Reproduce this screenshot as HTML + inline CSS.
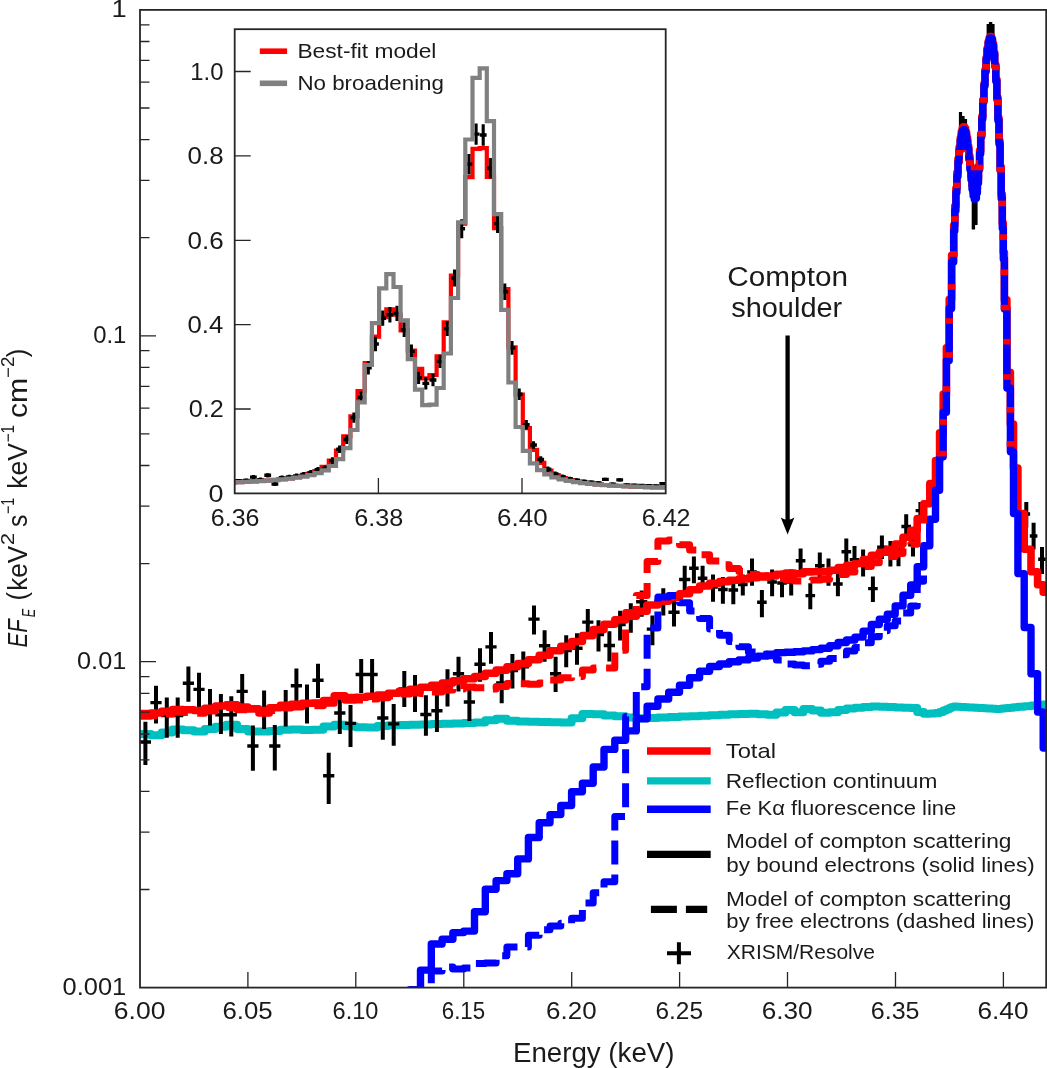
<!DOCTYPE html>
<html><head><meta charset="utf-8"><title>Fe K&#945; spectrum</title>
<style>html,body{margin:0;padding:0;background:#fff}svg{display:block;will-change:transform}</style></head>
<body>
<svg width="1047" height="1068" viewBox="0 0 1047 1068" font-family="'Liberation Sans', sans-serif" fill="#1a1a1a">
<rect width="1047" height="1068" fill="#fff"/>
<defs><clipPath id="cm"><rect x="140.0" y="9.9" width="908.2" height="977.7"/></clipPath><clipPath id="ci"><rect x="234.7" y="29.2" width="431.00000000000006" height="464.2"/></clipPath></defs>
<defs><clipPath id="cl"><rect x="140.0" y="9.9" width="787.0" height="977.7"/></clipPath><clipPath id="cr"><rect x="927.0" y="9.9" width="121.20000000000005" height="977.7"/></clipPath><mask id="mb" maskUnits="userSpaceOnUse" x="0" y="0" width="1047" height="1068"><path d="M140.0,1100.0H150.8V1100.0H161.6V1100.0H172.4V1100.0H183.2V1100.0H193.9V1100.0H204.7V1100.0H215.5V1100.0H226.3V1100.0H237.1V1100.0H247.9V1100.0H258.7V1100.0H269.5V1100.0H280.3V1100.0H291.1V1100.0H301.9V1100.0H312.6V1100.0H323.4V1100.0H334.2V1100.0H345.0V1100.0H355.8V1100.0H366.6V1100.0H377.4V1100.0H388.2V1084.4H399.0V1046.2H409.8V989.7H420.5V970.1H431.3V944.0H442.1V939.3H452.9V932.6H463.7V931.1H474.5V911.8H485.3V889.2H496.1V880.6H506.9V873.8H517.7V858.9H528.4V837.5H539.2V822.8H550.0V814.6H560.8V805.5H571.6V791.8H582.4V783.3H593.2V767.0H604.0V749.4H614.8V740.3H625.6V730.9H636.3V718.7H647.1V706.2H657.9V699.0H668.7V692.2H679.5V685.2H689.6V677.8H699.6V671.3H709.6V666.5H719.5V664.0H729.2V661.8H738.9V659.9H748.4V658.0H757.8V656.1H767.1V654.2H776.4V652.6H785.5V652.2H794.5V651.7H803.4V650.9H812.2V649.6H820.9V648.3H829.6V645.8H838.1V642.5H846.5V640.0H854.9V637.1H863.1V631.1H871.3V624.5H879.3V619.2H887.3V614.2H895.2V605.9H903.0V595.3H910.7V585.0H917.2V566.7H923.7V545.8H929.8V519.2H935.5V490.3H939.6V456.8H943.2V412.2H946.4V360.6H949.2V308.5H951.6V262.0H953.7V230.7H954.8V210.8H955.9V192.5H956.9V176.2H958.0V162.1H959.1V150.4H960.2V141.2H961.3V134.6H962.3V130.8H963.4V129.6H964.5V131.1H965.6V135.1H966.6V141.3H967.7V149.5H968.8V159.1H969.9V169.5H971.0V179.8H972.0V188.9H973.1V195.7H974.2V199.1H975.3V198.2H976.4V192.7H977.4V182.9H978.5V169.6H979.6V153.8H980.7V136.6H981.8V119.0H982.8V101.9H983.9V85.9H985.0V71.6H986.1V59.5H987.1V49.9H988.2V42.9H989.3V38.9H990.4V37.9H991.5V40.1H992.5V45.6H993.6V54.2H994.7V66.1H995.8V81.2H996.9V99.3H997.9V120.4H999.0V144.1H1000.1V170.3H1001.2V198.5H1002.3V228.2H1003.3V259.0H1004.4V309.0H1006.9V388.0H1010.4V451.8H1013.5V513.6H1017.9V573.6H1024.2V627.5H1031.0V673.8H1037.6V712.0H1043.2V748.0H1050.0" stroke="#fff" stroke-width="7.4" fill="none" stroke-linejoin="round"/></mask></defs>
<g clip-path="url(#cm)" fill="none" stroke-linejoin="round" stroke-linecap="butt">
<path d="M140.0,733.9H150.8V735.2H161.6V732.6H172.4V729.6H183.2V730.2H193.9V731.6H204.7V729.0H215.5V726.7H226.3V724.7H237.1V729.1H247.9V731.6H258.7V731.6H269.5V730.9H280.3V729.7H291.1V729.4H301.9V729.9H312.6V729.8H323.4V726.5H334.2V724.7H345.0V726.2H355.8V727.3H366.6V727.4H377.4V726.1H388.2V725.3H399.0V725.0H409.8V724.8H420.5V724.5H431.3V724.1H442.1V723.8H452.9V723.4H463.7V723.0H474.5V722.5H485.3V720.2H496.1V718.8H506.9V720.7H517.7V721.6H528.4V721.8H539.2V722.1H550.0V722.3H560.8V722.6H571.6V718.3H582.4V714.0H593.2V714.2H604.0V715.6H614.8V716.3H625.6V717.4H636.3V718.3H647.1V717.9H657.9V717.4H668.7V717.0H679.5V716.6H689.6V716.2H699.6V715.7H709.6V715.3H719.5V714.8H729.2V714.3H738.9V713.9H748.4V713.8H757.8V714.3H767.1V714.7H776.4V712.4H785.5V710.1H794.5V712.2H803.4V708.9H812.2V710.6H820.9V712.8H829.6V712.3H838.1V710.1H846.5V708.4H854.9V707.7H863.1V707.1H871.3V706.5H879.3V706.8H887.3V707.1H895.2V707.4H903.0V707.7H910.7V708.0H917.2V711.9H923.7V713.8H929.8V713.4H935.5V713.1H939.6V712.0H943.2V710.5H946.4V709.2H949.2V708.1H951.6V707.1H953.7V706.5H954.8V706.6H955.9V706.6H956.9V706.7H958.0V706.8H959.1V706.8H960.2V706.9H961.3V706.9H962.3V707.0H963.4V707.1H964.5V707.1H965.6V707.2H966.6V707.2H967.7V707.3H968.8V707.4H969.9V707.4H971.0V707.5H972.0V707.5H973.1V707.6H974.2V707.7H975.3V707.7H976.4V707.8H977.4V707.8H978.5V707.9H979.6V708.0H980.7V708.0H981.8V708.1H982.8V708.1H983.9V708.2H985.0V708.3H986.1V708.3H987.1V708.4H988.2V708.4H989.3V708.5H990.4V708.6H991.5V708.6H992.5V708.7H993.6V708.7H994.7V708.8H995.8V708.9H996.9V708.9H997.9V709.0H999.0V708.9H1000.1V708.8H1001.2V708.7H1002.3V708.6H1003.3V708.5H1004.4V708.3H1006.9V708.0H1010.4V707.7H1013.5V707.3H1017.9V706.8H1024.2V706.2H1031.0V705.6H1037.6V705.1H1043.2V704.5H1050.0" stroke="#00bfbf" stroke-width="8"/>
<path d="M145.4,721.7V765.0M156.0,685.7V723.4M166.8,697.6V737.8M177.7,697.6V737.8M188.4,666.6V701.8M199.0,672.8V708.0M210.0,688.9V725.4M220.9,693.9V734.0M231.3,696.3V736.6M242.2,674.0V709.0M252.9,725.4V770.8M264.1,690.6V729.0M274.8,725.0V770.4M285.7,690.0V726.6M296.4,668.5V701.8M307.0,684.4V723.4M318.0,663.8V698.0M328.7,752.7V804.1M339.8,699.3V734.1M350.5,705.0V747.0M361.2,658.9V693.1M372.1,658.9V693.1M382.8,699.3V739.8M393.7,704.0V745.7M404.3,671.0V707.0M415.0,675.0V712.0M425.9,695.3V735.8M436.9,692.0V732.0M447.5,669.3V706.5M458.5,656.8V691.6M469.4,685.4V720.9M480.0,648.2V681.7M491.0,632.0V663.8M501.7,669.0V703.3M512.4,653.9V688.4M523.3,651.4V682.9M534.0,605.4V634.5M544.6,630.3V661.8M555.6,656.8V692.1M566.2,635.2V667.3M577.0,633.3V664.8M587.8,608.9V635.7M598.5,620.3V651.4M609.4,631.2V661.6M620.1,610.7V640.5M630.8,603.2V632.7M641.7,590.6V616.7M652.4,615.5V645.3M663.3,588.2V615.5M674.0,601.0V626.6M684.7,565.8V590.6M693.9,556.6V583.2M702.6,565.8V589.4M713.0,574.5V601.8M722.9,577.0V603.8M733.3,578.2V604.3M742.8,574.5V595.6M752.0,558.4V585.7M761.9,589.9V617.2M772.1,569.5V596.3M782.0,570.8V597.3M791.2,569.5V595.6M800.6,548.4V572.0M810.3,583.2V609.3M819.8,552.6V577.0M828.5,558.4V585.7M837.9,573.3V596.3M846.3,538.5V564.6M854.5,545.9V572.0M863.1,549.6V576.4M872.9,576.4V602.0M881.9,535.5V559.0M890.4,541.0V566.6M898.5,542.3V566.2M906.2,514.3V538.0M913.0,534.0V556.4M920.4,502.0V521.0M1026.3,502.0V527.7M1033.6,522.8V549.6M1042.0,547.0V574.0" stroke="#000" stroke-width="4"/>
<path d="M139.8,742.0H151.0M150.4,702.6H161.6M161.2,715.5H172.4M172.1,715.5H183.3M182.8,683.2H194.0M193.4,689.4H204.6M204.4,707.0H215.6M215.3,714.7H226.5M225.7,714.7H236.9M236.6,691.4H247.8M247.3,746.0H258.5M258.5,709.0H269.7M269.2,746.0H280.4M280.1,708.0H291.3M290.8,685.7H302.0M301.4,703.0H312.6M312.4,680.2H323.6M323.1,775.8H334.3M334.2,713.0H345.4M344.9,723.4H356.1M355.6,674.5H366.8M366.5,674.5H377.7M377.2,718.0H388.4M388.1,723.9H399.3M398.7,689.0H409.9M409.4,692.9H420.6M420.3,714.5H431.5M431.3,710.7H442.5M441.9,686.6H453.1M452.9,673.7H464.1M463.8,702.0H475.0M474.4,664.3H485.6M485.4,646.9H496.6M496.1,682.9H507.3M506.8,670.5H518.0M517.7,666.8H528.9M528.4,619.1H539.6M539.0,645.7H550.2M550.0,673.7H561.2M560.6,650.6H571.8M571.4,648.2H582.6M582.2,622.1H593.4M592.9,634.5H604.1M603.8,645.5H615.0M614.5,624.6H625.7M625.2,617.0H636.4M636.1,601.8H647.3M646.8,629.1H658.0M657.7,600.5H668.9M668.4,612.2H679.6M679.1,579.5H690.3M689.1,568.3H698.7M697.8,578.2H707.4M708.2,587.0H717.8M718.1,589.5H727.7M728.5,590.0H738.1M738.0,584.5H747.6M747.2,572.0H756.8M757.1,602.3H766.7M767.3,582.0H776.9M777.2,583.0H786.8M786.4,582.0H796.0M795.8,560.8H805.4M805.5,595.6H815.1M815.0,565.8H824.6M823.7,571.0H833.3M833.1,584.0H842.7M841.5,551.7H851.1M849.7,559.6H859.3M858.3,562.5H867.9M868.1,588.6H877.7M877.1,547.2H886.7M885.6,553.0H895.2M893.7,554.0H903.3M901.4,526.5H911.0M908.2,544.7H917.8M915.6,510.6H925.2M1022.5,514.0H1030.1M1029.8,536.0H1037.4M1038.2,559.3H1045.8" stroke="#000" stroke-width="3.4"/>
<path d="M990.6,22V40M988.3,24V40M992.9,24V40" stroke="#000" stroke-width="3.4"/>
<path d="M960.5,112V130M963,116V130M965.5,119V132" stroke="#000" stroke-width="3.2"/>
<path d="M973.4,190V229.5M975.9,190V225" stroke="#000" stroke-width="3.4"/>
<path d="M140.0,713.5H150.8V713.0H161.6V711.4H172.4V709.6H183.2V709.8H193.9V710.5H204.7V708.3H215.5V706.0H226.3V704.8H237.1V707.1H247.9V708.9H258.7V710.5H269.5V707.8H280.3V705.3H291.1V704.2H301.9V703.2H312.6V703.1H323.4V700.5H334.2V695.8H345.0V697.6H355.8V697.3H366.6V696.2H377.4V695.0H388.2V693.3H399.0V691.3H409.8V689.3H420.5V687.3H431.3V685.2H442.1V683.0H452.9V680.9H463.7V678.7H474.5V676.5H485.3V673.3H496.1V670.1H506.9V666.8H517.7V663.6H528.4V659.8H539.2V655.3H550.0V650.7H560.8V646.4H571.6V641.5H582.4V635.6H593.2V629.6H604.0V624.3H614.8V619.9H625.6V616.3H636.3V611.2H647.1V605.0H657.9V601.3H668.7V597.6H679.5V593.8H689.6V589.7H699.6V586.0H709.6V583.2H719.5V581.6H729.2V580.2H738.9V578.9H748.4V577.8H757.8V576.9H767.1V576.0H776.4V574.2H785.5V573.1H794.5V573.7H803.4V571.9H812.2V571.8H820.9V571.9H829.6V570.2H838.1V567.5H846.5V565.4H854.9V563.5H863.1V559.6H871.3V555.4H879.3V552.3H887.3V549.2H895.2V544.0H903.0V537.2H910.7V530.3H917.2V518.6H923.7V503.8H929.8V483.6H935.5V460.5H939.6V432.7H943.2V394.0H946.4V347.7H949.2V299.4H951.6V255.3H953.7V225.3H954.8V206.1H955.9V188.4H956.9V172.5H958.0V158.7H959.1V147.3H960.2V138.3H961.3V131.9H962.3V128.1H963.4V126.9H964.5V128.4H965.6V132.3H966.6V138.4H967.7V146.4H968.8V155.8H969.9V166.0H971.0V176.0H972.0V184.9H973.1V191.5H974.2V194.8H975.3V193.9H976.4V188.6H977.4V179.1H978.5V166.1H979.6V150.6H980.7V133.8H981.8V116.5H982.8V99.7H983.9V83.9H985.0V69.9H986.1V57.9H987.1V48.3H988.2V41.5H989.3V37.5H990.4V36.5H991.5V38.7H992.5V44.1H993.6V52.6H994.7V64.4H995.8V79.3H996.9V97.2H997.9V117.9H999.0V141.2H1000.1V166.8H1001.2V194.2H1002.3V223.0H1003.3V252.5H1004.4V299.9H1006.9V372.3H1010.4V424.0H1013.5V468.0H1017.9V513.6H1024.2V549.2H1031.0V571.7H1037.6V584.8H1043.2V592.3H1050.0" stroke="#f00" stroke-width="7.6"/>
<path d="M140.0,1100.0H150.8V1100.0H161.6V1100.0H172.4V1100.0H183.2V1100.0H193.9V1100.0H204.7V1100.0H215.5V1100.0H226.3V1100.0H237.1V1100.0H247.9V1100.0H258.7V1100.0H269.5V1100.0H280.3V1100.0H291.1V1100.0H301.9V1100.0H312.6V1100.0H323.4V1100.0H334.2V1100.0H345.0V1100.0H355.8V1100.0H366.6V1100.0H377.4V1100.0H388.2V1084.4H399.0V1046.2H409.8V989.7H420.5V970.1H431.3V944.0H442.1V939.3H452.9V932.6H463.7V931.1H474.5V911.8H485.3V889.2H496.1V880.6H506.9V873.8H517.7V858.9H528.4V837.5H539.2V822.8H550.0V814.6H560.8V805.5H571.6V791.8H582.4V783.3H593.2V767.0H604.0V749.4H614.8V740.3H625.6V730.9H636.3V718.7H647.1V706.2H657.9V699.0H668.7V692.2H679.5V685.2H689.6V677.8H699.6V671.3H709.6V666.5H719.5V664.0H729.2V661.8H738.9V659.9H748.4V658.0H757.8V656.1H767.1V654.2H776.4V652.6H785.5V652.2H794.5V651.7H803.4V650.9H812.2V649.6H820.9V648.3H829.6V645.8H838.1V642.5H846.5V640.0H854.9V637.1H863.1V631.1H871.3V624.5H879.3V619.2H887.3V614.2H895.2V605.9H903.0V595.3H910.7V585.0H917.2V566.7H923.7V545.8H929.8V519.2H935.5V490.3H939.6V456.8H943.2V412.2H946.4V360.6H949.2V308.5H951.6V262.0H953.7V230.7H954.8V210.8H955.9V192.5H956.9V176.2H958.0V162.1H959.1V150.4H960.2V141.2H961.3V134.6H962.3V130.8H963.4V129.6H964.5V131.1H965.6V135.1H966.6V141.3H967.7V149.5H968.8V159.1H969.9V169.5H971.0V179.8H972.0V188.9H973.1V195.7H974.2V199.1H975.3V198.2H976.4V192.7H977.4V182.9H978.5V169.6H979.6V153.8H980.7V136.6H981.8V119.0H982.8V101.9H983.9V85.9H985.0V71.6H986.1V59.5H987.1V49.9H988.2V42.9H989.3V38.9H990.4V37.9H991.5V40.1H992.5V45.6H993.6V54.2H994.7V66.1H995.8V81.2H996.9V99.3H997.9V120.4H999.0V144.1H1000.1V170.3H1001.2V198.5H1002.3V228.2H1003.3V259.0H1004.4V309.0H1006.9V388.0H1010.4V451.8H1013.5V513.6H1017.9V573.6H1024.2V627.5H1031.0V673.8H1037.6V712.0H1043.2V748.0H1050.0" stroke="#00f" stroke-width="7.4"/>
<g clip-path="url(#cl)">
<path d="M140.0,716.2H150.8V715.8H161.6V714.1H172.4V712.3H183.2V712.6H193.9V713.2H204.7V711.0H215.5V708.8H226.3V707.5H237.1V709.8H247.9V711.7H258.7V713.2H269.5V710.5H280.3V708.0H291.1V707.0H301.9V705.9H312.6V705.8H323.4V703.2H334.2V698.5H345.0V700.3H355.8V700.0H366.6V699.0H377.4V697.7H388.2V696.0H399.0V694.0H409.8V693.0H420.5V693.5H431.3V691.9H442.1V689.9H452.9V689.1H463.7V687.0H474.5V687.7H485.3V689.1H496.1V686.6H506.9V683.4H517.7V683.8H528.4V684.2H539.2V683.0H550.0V680.0H560.8V677.8H571.6V676.5H582.4V670.1H593.2V668.1H604.0V667.9H614.8V650.3H625.6V612.4H636.3V595.4H647.1V561.4H657.9V541.1H668.7V540.1H679.5V544.7H689.6V550.1H699.6V554.8H709.6V561.1H719.5V564.8H729.2V568.4H738.9V571.4H748.4V574.4H757.8V575.8H767.1V576.9H776.4V578.4H785.5V579.8H794.5V581.1H803.4V580.2H812.2V580.0H820.9V579.3H829.6V577.5H838.1V574.6H846.5V571.9H854.9V569.5H863.1V566.5H871.3V562.8H879.3V559.3H887.3V556.4H895.2V553.5H903.0V548.6H910.7V544.3H917.2V528.8H923.7V513.0H929.8V491.6H935.5V467.2H939.6V437.9H943.2V397.8H946.4V350.2H949.2V301.1H951.6V256.5H953.7V226.2H954.8V206.9H955.9V189.1H956.9V173.1H958.0V159.2H959.1V147.7H960.2V138.7H961.3V132.2H962.3V128.4H963.4V127.3H964.5V128.7H965.6V132.6H966.6V138.7H967.7V146.8H968.8V156.2H969.9V166.3H971.0V176.3H972.0V185.2H973.1V191.8H974.2V195.1H975.3V194.2H976.4V188.9H977.4V179.3H978.5V166.3H979.6V150.8H980.7V133.9H981.8V116.6H982.8V99.8H983.9V84.0H985.0V69.9H986.1V57.9H987.1V48.4H988.2V41.5H989.3V37.5H990.4V36.5H991.5V38.7H992.5V44.1H993.6V52.6H994.7V64.4H995.8V79.3H996.9V97.2H997.9V117.9H999.0V141.2H1000.1V166.8H1001.2V194.2H1002.3V223.0H1003.3V252.5H1004.4V299.9H1006.9V372.3H1010.4V424.0H1013.5V468.0H1017.9V513.6H1024.2V549.2H1031.0V571.7H1037.6V584.8H1043.2V592.3H1050.0" stroke="#f00" stroke-width="7.0" stroke-dasharray="24 10" stroke-dashoffset="6"/>
<path d="M140.0,1100.0H150.8V1100.0H161.6V1100.0H172.4V1100.0H183.2V1100.0H193.9V1100.0H204.7V1100.0H215.5V1100.0H226.3V1100.0H237.1V1100.0H247.9V1100.0H258.7V1100.0H269.5V1100.0H280.3V1100.0H291.1V1100.0H301.9V1100.0H312.6V1100.0H323.4V1100.0H334.2V1100.0H345.0V1100.0H355.8V1100.0H366.6V1100.0H377.4V1100.0H388.2V1084.4H399.0V1046.2H409.8V997.9H420.5V997.9H431.3V971.0H442.1V967.1H452.9V968.9H463.7V968.0H474.5V963.5H485.3V963.0H496.1V955.8H506.9V947.1H517.7V947.0H528.4V935.2H539.2V929.7H550.0V925.9H560.8V923.2H571.6V918.2H582.4V903.1H593.2V892.8H604.0V881.8H614.8V816.6H625.6V716.5H636.3V686.8H647.1V627.9H657.9V597.0H668.7V595.6H679.5V602.7H689.6V611.1H699.6V618.6H709.6V629.0H719.5V635.3H729.2V641.5H738.9V646.8H748.4V652.0H757.8V654.2H767.1V655.8H776.4V659.9H785.5V664.0H794.5V664.9H803.4V665.7H812.2V664.2H820.9V661.3H829.6V658.5H838.1V654.8H846.5V651.1H854.9V647.5H863.1V642.8H871.3V636.7H879.3V630.8H887.3V625.8H895.2V620.9H903.0V613.0H910.7V606.0H917.2V581.2H923.7V558.2H929.8V529.7H935.5V498.5H939.6V463.0H943.2V416.5H946.4V363.4H949.2V310.4H951.6V263.2H953.7V231.7H954.8V211.6H955.9V193.2H956.9V176.8H958.0V162.6H959.1V150.8H960.2V141.6H961.3V135.0H962.3V131.1H963.4V130.0H964.5V131.4H965.6V135.4H966.6V141.6H967.7V149.8H968.8V159.4H969.9V169.8H971.0V180.1H972.0V189.3H973.1V196.1H974.2V199.4H975.3V198.5H976.4V193.0H977.4V183.2H978.5V169.8H979.6V154.0H980.7V136.7H981.8V119.1H982.8V101.9H983.9V86.0H985.0V71.7H986.1V59.6H987.1V49.9H988.2V42.9H989.3V38.9H990.4V37.9H991.5V40.1H992.5V45.6H993.6V54.2H994.7V66.1H995.8V81.2H996.9V99.3H997.9V120.4H999.0V144.1H1000.1V170.3H1001.2V198.5H1002.3V228.2H1003.3V259.0H1004.4V309.0H1006.9V388.0H1010.4V451.8H1013.5V513.6H1017.9V573.6H1024.2V627.5H1031.0V673.8H1037.6V712.0H1043.2V748.0H1050.0" stroke="#00f" stroke-width="7.0" stroke-dasharray="24 10"/>
</g>
<g mask="url(#mb)" stroke="none" fill="#f00">
<rect x="945.9" y="216.2" width="16" height="5.6"/>
<rect x="948.2" y="182.6" width="16" height="5.6"/>
<rect x="950.4" y="150.0" width="16" height="5.6"/>
<rect x="962.1" y="160.2" width="16" height="5.6"/>
<rect x="970.7" y="164.7" width="16" height="5.6"/>
<rect x="972.5" y="130.9" width="16" height="5.6"/>
<rect x="974.7" y="97.2" width="16" height="5.6"/>
<rect x="977.4" y="64.0" width="16" height="5.6"/>
<rect x="987.5" y="64.6" width="16" height="5.6"/>
<rect x="989.1" y="99.5" width="16" height="5.6"/>
<rect x="990.9" y="133.2" width="16" height="5.6"/>
<rect x="992.5" y="166.9" width="16" height="5.6"/>
<rect x="994.3" y="200.6" width="16" height="5.6"/>
<rect x="995.8" y="234.3" width="16" height="5.6"/>
<rect x="944.8" y="251.2" width="16" height="5.6"/>
<rect x="942.4" y="284.2" width="16" height="5.6"/>
<rect x="940.7" y="318.2" width="16" height="5.6"/>
<rect x="938.2" y="352.2" width="16" height="5.6"/>
<rect x="937.5" y="386.2" width="16" height="5.6"/>
<rect x="935.1" y="419.2" width="16" height="5.6"/>
<rect x="932.2" y="450.8" width="16" height="5.6"/>
<rect x="996.6" y="269.5" width="16" height="5.6"/>
<rect x="997.9" y="304.8" width="16" height="5.6"/>
<rect x="999.6" y="338.9" width="16" height="5.6"/>
<rect x="1000.8" y="374.2" width="16" height="5.6"/>
<rect x="1002.0" y="407.0" width="16" height="5.6"/>
<rect x="1004.9" y="441.1" width="16" height="5.6"/>
</g>
</g>
<g stroke="#262626" stroke-width="1.3" fill="none">
<rect x="140.0" y="9.9" width="906.2" height="977.7" stroke-width="1.8"/>
<path d="M247.9,987.6v-15.5M355.8,987.6v-15.5M463.8,987.6v-15.5M571.7,987.6v-15.5M679.6,987.6v-15.5M787.5,987.6v-15.5M895.5,987.6v-15.5M1003.4,987.6v-15.5M140.0,237.7h9.5M140.0,180.3h9.5M140.0,139.6h9.5M140.0,108.0h9.5M140.0,82.2h9.5M140.0,60.4h9.5M140.0,41.5h9.5M140.0,24.8h9.5M140.0,563.6h9.5M140.0,506.2h9.5M140.0,465.5h9.5M140.0,433.9h9.5M140.0,408.1h9.5M140.0,386.3h9.5M140.0,367.4h9.5M140.0,350.7h9.5M140.0,889.5h9.5M140.0,832.1h9.5M140.0,791.4h9.5M140.0,759.8h9.5M140.0,734.0h9.5M140.0,712.2h9.5M140.0,693.3h9.5M140.0,676.6h9.5M140.0,335.8h16M140.0,661.7h16"/>
</g>
<text x="113.82" y="1018.8" font-size="24" textLength="51.64" lengthAdjust="spacingAndGlyphs">6.00</text>
<text x="222.43" y="1018.8" font-size="24" textLength="50.28" lengthAdjust="spacingAndGlyphs">6.05</text>
<text x="332.57" y="1018.8" font-size="24" textLength="45.87" lengthAdjust="spacingAndGlyphs">6.10</text>
<text x="441.76" y="1018.8" font-size="24" textLength="43.35" lengthAdjust="spacingAndGlyphs">6.15</text>
<text x="546.10" y="1018.8" font-size="24" textLength="50.49" lengthAdjust="spacingAndGlyphs">6.20</text>
<text x="655.50" y="1018.8" font-size="24" textLength="47.55" lengthAdjust="spacingAndGlyphs">6.25</text>
<text x="761.74" y="1018.8" font-size="24" textLength="50.91" lengthAdjust="spacingAndGlyphs">6.30</text>
<text x="870.77" y="1018.8" font-size="24" textLength="48.71" lengthAdjust="spacingAndGlyphs">6.35</text>
<text x="977.53" y="1018.8" font-size="24" textLength="51.01" lengthAdjust="spacingAndGlyphs">6.40</text>
<text x="512.99" y="1061.8" font-size="27" textLength="161.51" lengthAdjust="spacingAndGlyphs">Energy (keV)</text>
<text x="111.47" y="16.9" font-size="24" textLength="15.18" lengthAdjust="spacingAndGlyphs">1</text>
<text x="93.23" y="343.0" font-size="24" textLength="33.18" lengthAdjust="spacingAndGlyphs">0.1</text>
<text x="77.08" y="668.9" font-size="24" textLength="49.16" lengthAdjust="spacingAndGlyphs">0.01</text>
<text x="62.57" y="994.8" font-size="24" textLength="63.65" lengthAdjust="spacingAndGlyphs">0.001</text>
<text transform="translate(27.3,647.52) rotate(-90)" font-size="27" textLength="28.20" lengthAdjust="spacingAndGlyphs" font-style="italic">EF</text>
<text transform="translate(35.1,617.25) rotate(-90)" font-size="18" textLength="8.47" lengthAdjust="spacingAndGlyphs" font-style="italic">E</text>
<text transform="translate(25.8,600.43) rotate(-90)" font-size="27" textLength="8.46" lengthAdjust="spacingAndGlyphs">(</text>
<text transform="translate(27.3,590.80) rotate(-90)" font-size="27" textLength="45.14" lengthAdjust="spacingAndGlyphs">keV</text>
<text transform="translate(13.9,545.29) rotate(-90)" font-size="18" textLength="12.50" lengthAdjust="spacingAndGlyphs">2</text>
<text transform="translate(27.3,526.89) rotate(-90)" font-size="27" textLength="12.41" lengthAdjust="spacingAndGlyphs">s</text>
<text transform="translate(13.9,514.00) rotate(-90)" font-size="18" textLength="16.31" lengthAdjust="spacingAndGlyphs">−1</text>
<text transform="translate(27.3,488.72) rotate(-90)" font-size="27" textLength="45.67" lengthAdjust="spacingAndGlyphs">keV</text>
<text transform="translate(13.9,442.34) rotate(-90)" font-size="18" textLength="17.40" lengthAdjust="spacingAndGlyphs">−1</text>
<text transform="translate(27.3,418.06) rotate(-90)" font-size="27" textLength="40.31" lengthAdjust="spacingAndGlyphs">cm</text>
<text transform="translate(13.9,378.01) rotate(-90)" font-size="18" textLength="21.45" lengthAdjust="spacingAndGlyphs">−2</text>
<text transform="translate(25.8,357.24) rotate(-90)" font-size="27" textLength="8.46" lengthAdjust="spacingAndGlyphs">)</text>
<text x="727.39" y="285.9" font-size="27" textLength="120.60" lengthAdjust="spacingAndGlyphs">Compton</text>
<text x="731.20" y="316.6" font-size="27" textLength="111.08" lengthAdjust="spacingAndGlyphs">shoulder</text>
<path d="M787.6,335.5V522" stroke="#000" stroke-width="4.3" fill="none"/>
<path d="M787.6,534.5L780.8,517.5Q787.6,522 794.4,517.5Z" fill="#000"/>
<g fill="none" stroke-width="7.4">
<path d="M647,751H710.7" stroke="#f00"/><path d="M647,780.9H710.7" stroke="#00bfbf"/><path d="M647,809.3H710.7" stroke="#00f"/>
<path d="M647,854.4H710.7" stroke="#000"/><path d="M650.9,909.4H676.9M685.9,909.4H707.2" stroke="#000"/>
<path d="M667,953.3H691M678.9,942.3V964.3" stroke="#000" stroke-width="4"/>
</g>
<text x="725.73" y="758" font-size="21" textLength="50.31" lengthAdjust="spacingAndGlyphs">Total</text>
<text x="725.71" y="787.7" font-size="21" textLength="211.66" lengthAdjust="spacingAndGlyphs">Reflection continuum</text>
<text x="725.77" y="814.8" font-size="21" textLength="230.50" lengthAdjust="spacingAndGlyphs">Fe Kα fluorescence line</text>
<text x="725.91" y="847.8" font-size="21" textLength="285.51" lengthAdjust="spacingAndGlyphs">Model of compton scattering</text>
<text x="726.34" y="871.9" font-size="21" textLength="308.29" lengthAdjust="spacingAndGlyphs">by bound electrons (solid lines)</text>
<text x="725.91" y="905.5" font-size="21" textLength="285.51" lengthAdjust="spacingAndGlyphs">Model of compton scattering</text>
<text x="726.35" y="928" font-size="21" textLength="308.15" lengthAdjust="spacingAndGlyphs">by free electrons (dashed lines)</text>
<text x="726.80" y="959.1" font-size="21" textLength="148.16" lengthAdjust="spacingAndGlyphs">XRISM/Resolve</text>
<rect x="234.7" y="29.2" width="431.00000000000006" height="464.2" fill="#fff" stroke="none"/>
<g clip-path="url(#ci)" fill="none" stroke-linejoin="miter">
<path d="M231.1,482.4H235.4V482.2H242.6V481.8H249.8V481.4H257.0V481.0H264.2V480.5H271.3V479.9H278.5V479.1H285.7V478.3H292.9V477.2H300.1V475.8H307.3V473.9H314.4V471.2H321.6V466.9H328.8V460.5H336.0V450.7H343.2V436.3H350.4V416.4H357.5V391.2H364.7V363.2H371.9V336.7H379.1V317.2H386.3V309.3H393.5V314.6H400.6V330.3H407.8V350.7H415.0V368.8H422.2V378.3H429.4V375.0H436.6V356.3H443.7V322.3H450.9V275.7H458.1V223.6H465.3V177.1H472.5V148.8H479.7V148.2H486.8V177.0H494.0V228.2H501.2V289.2H508.4V347.4H515.6V394.6H522.8V428.2H529.9V449.9H537.1V462.9H544.3V470.6H551.5V475.2H558.7V478.2H565.9V480.2H573.0V481.7H580.2V482.8H587.4V483.7H594.6V484.4H601.8V485.0H609.0V485.5H616.1V485.9H623.3V486.2H630.5V486.6H637.7V486.8H644.9V487.1H652.1V487.3H659.2V487.5H666.4" stroke="#f00" stroke-width="4.2"/>
<path d="M229.9,481.0H236.7M235.6,480.8H242.4M242.8,480.5H249.6M250.0,477.1H256.8M257.2,479.7H264.0M264.3,475.3H271.1M271.5,484.0H278.3M278.7,477.8H285.5M285.9,476.9H292.7M293.1,475.9H299.9M300.3,474.5H307.1M307.4,472.6H314.2M314.6,469.8H321.4M321.8,468.5H328.6M329.0,460.6H335.8M336.2,449.3H343.0M343.4,439.5H350.2M350.5,417.6H357.3M357.7,397.3H364.5M364.9,367.9H371.7M372.1,344.0H378.9M379.3,318.2H386.1M386.5,314.8H393.3M393.6,313.4H400.4M400.8,329.7H407.6M408.0,351.4H414.8M415.2,377.7H422.0M422.4,383.4H429.2M429.6,380.0H436.4M436.7,361.4H443.5M443.9,328.6H450.7M451.1,278.0H457.9M458.3,228.7H465.1M465.5,164.1H472.3M472.7,134.1H479.5M479.8,135.0H486.6M487.0,168.3H493.8M494.2,223.6H501.0M501.4,291.8H508.2M508.6,347.9H515.4M515.8,394.3H522.6M522.9,424.8H529.7M530.1,445.0H536.9M537.3,459.5H544.1M544.5,469.3H551.3M551.7,473.9H558.5M558.9,476.8H565.7M566.0,478.8H572.8M573.2,480.3H580.0M580.4,481.4H587.2M587.6,482.3H594.4M594.8,483.0H601.6M602.0,479.4H608.8M609.1,484.1H615.9M616.3,479.9H623.1M623.5,484.9H630.3M630.7,485.2H637.5M637.9,485.5H644.7M645.1,485.7H651.9M652.2,485.9H659.0M659.4,483.6H666.2" stroke="#000" stroke-width="3.4"/>
<path d="M233.3,479.1V483.0M239.0,478.9V482.7M246.2,478.5V482.4M253.4,475.1V479.1M260.6,477.6V481.7M267.7,473.3V477.4M274.9,481.9V486.1M282.1,475.6V480.0M289.3,474.7V479.2M296.5,473.5V478.2M303.7,472.1V476.9M310.8,470.1V475.1M318.0,467.1V472.5M325.2,465.5V471.4M332.4,457.3V463.9M339.6,445.6V453.1M346.8,435.2V443.9M353.9,412.6V422.7M361.1,391.5V403.1M368.3,361.3V374.4M375.5,336.8V351.2M382.7,310.6V325.8M389.9,307.0V322.6M397.0,305.7V321.1M404.2,322.3V337.0M411.4,344.6V358.3M418.6,371.3V384.1M425.8,377.2V389.6M433.0,373.8V386.3M440.1,354.7V368.1M447.3,321.1V336.1M454.5,269.5V286.5M461.7,219.3V238.2M468.9,153.9V174.4M476.1,123.4V144.8M483.2,124.3V145.7M490.4,158.1V178.6M497.6,214.2V233.0M504.8,283.6V300.1M512.0,340.9V354.8M519.2,388.6V400.0M526.3,420.1V429.4M533.5,441.2V448.8M540.7,456.3V462.7M547.9,466.5V472.0M555.1,471.4V476.3M562.3,474.6V479.1M569.4,476.7V480.9M576.6,478.3V482.3M583.8,479.5V483.3M591.0,480.5V484.1M598.2,481.3V484.8M605.4,477.7V481.1M612.5,482.5V485.7M619.7,478.3V481.5M626.9,483.4V486.4M634.1,483.7V486.7M641.3,484.0V486.9M648.5,484.3V487.2M655.6,484.5V487.3M662.8,482.2V485.0" stroke="#000" stroke-width="3.1"/>
<path d="M231.1,482.5H235.4V482.2H242.6V481.9H249.8V481.5H257.0V481.1H264.2V480.7H271.3V480.1H278.5V479.4H285.7V478.6H292.9V477.7H300.1V476.6H307.3V475.2H314.4V473.2H321.6V470.3H328.8V466.0H336.0V459.2H343.2V448.1H350.4V430.0H357.5V402.4H364.7V365.0H371.9V323.1H379.1V288.3H386.3V274.2H393.5V287.0H400.6V320.4H407.8V359.2H415.0V389.7H422.2V405.2H429.4V404.7H436.6V388.0H443.7V353.5H450.9V298.0H458.1V222.4H465.3V139.5H472.5V77.8H479.7V68.4H486.8V121.2H494.0V214.1H501.2V309.9H508.4V382.5H515.6V427.0H522.8V450.9H529.9V463.3H537.1V470.2H544.3V474.4H551.5V477.3H558.7V479.4H565.9V480.9H573.0V482.2H580.2V483.1H587.4V483.9H594.6V484.6H601.8V485.1H609.0V485.6H616.1V486.0H623.3V486.3H630.5V486.6H637.7V486.9H644.9V487.1H652.1V487.3H659.2V487.5H666.4" stroke="#808080" stroke-width="4.2"/>
</g>
<g stroke="#262626" stroke-width="1.3" fill="none"><rect x="234.7" y="29.2" width="431.00000000000006" height="464.2" stroke-width="1.8"/>
<path d="M378.4,493.4v-15.5M522.0,493.4v-15.5M234.7,409.0h16M234.7,324.6h16M234.7,240.3h16M234.7,155.9h16M234.7,71.5h16"/></g>
<text x="210.80" y="526.0" font-size="24" textLength="48.63" lengthAdjust="spacingAndGlyphs">6.36</text>
<text x="354.20" y="526.0" font-size="24" textLength="49.02" lengthAdjust="spacingAndGlyphs">6.38</text>
<text x="497.13" y="526.0" font-size="24" textLength="50.49" lengthAdjust="spacingAndGlyphs">6.40</text>
<text x="641.79" y="526.0" font-size="24" textLength="48.77" lengthAdjust="spacingAndGlyphs">6.42</text>
<text x="208.62" y="501.8" font-size="24" textLength="14.97" lengthAdjust="spacingAndGlyphs">0</text>
<text x="188.78" y="417.4" font-size="24" textLength="35.02" lengthAdjust="spacingAndGlyphs">0.2</text>
<text x="187.56" y="333.0" font-size="24" textLength="35.73" lengthAdjust="spacingAndGlyphs">0.4</text>
<text x="187.55" y="248.7" font-size="24" textLength="36.15" lengthAdjust="spacingAndGlyphs">0.6</text>
<text x="187.56" y="164.3" font-size="24" textLength="36.01" lengthAdjust="spacingAndGlyphs">0.8</text>
<text x="190.34" y="79.9" font-size="24" textLength="33.14" lengthAdjust="spacingAndGlyphs">1.0</text>
<path d="M259.8,51.2H287.1" stroke="#f00" stroke-width="5.6"/><path d="M259.8,83.3H287.1" stroke="#808080" stroke-width="5.6"/>
<text x="297.41" y="57.7" font-size="21" textLength="138.99" lengthAdjust="spacingAndGlyphs">Best-fit model</text>
<text x="297.44" y="89.9" font-size="21" textLength="146.52" lengthAdjust="spacingAndGlyphs">No broadening</text>
</svg>
</body></html>
